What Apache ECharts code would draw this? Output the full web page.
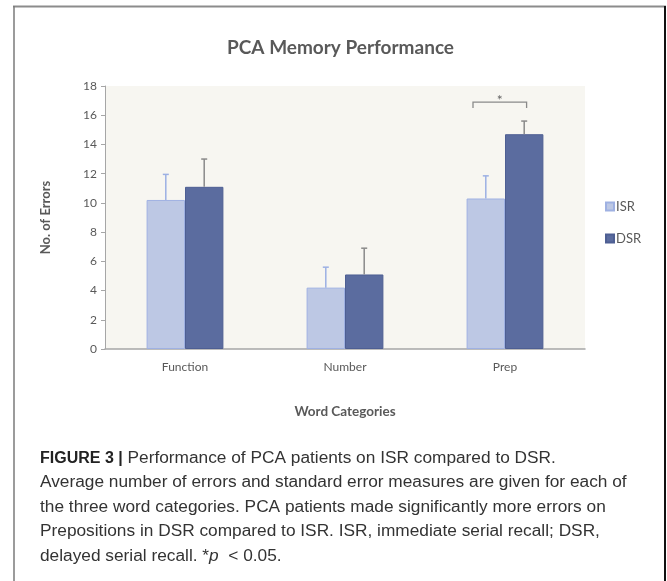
<!DOCTYPE html>
<html><head><meta charset="utf-8">
<script src="https://cdn.jsdelivr.net/npm/echarts@6/dist/echarts.min.js"></script>
<style>html,body{margin:0;padding:0;background:#fff}#c{width:667px;height:581px}</style>
</head><body><div id="c"></div>
<script>
var categories = ['Function', 'Number', 'Prep'];
var isrValues = [10.2, 4.2, 10.3];
var dsrValues = [11.1, 5.1, 14.7];
var isrErr = [1.75, 1.4, 1.55];
var dsrErr = [1.9, 1.8, 0.9];
var yTicks = [0, 2, 4, 6, 8, 10, 12, 14, 16, 18];
var sigBracket = [[2, 16.5, 16.9]];

var font = 'Lato, "Open Sans", sans-serif';
var capFont = '"Liberation Sans", Arial, sans-serif';
var chart = echarts.init(document.getElementById('c'));

function errData(vals, errs, side) {
  return vals.map(function (v, i) { return [i, v, v + errs[i], side]; });
}

function renderErr(params, api) {
  var idx = api.value(0), lo = api.value(1), hi = api.value(2), side = api.value(3);
  var band = api.size([1, 0])[0];
  var off = side * band * 0.12;
  var p0 = api.coord([idx, lo]), p1 = api.coord([idx, hi]);
  var x = p0[0] + off;
  var color = side < 0 ? '#9cb0e3' : '#8a8a8a';
  return {
    type: 'group',
    children: [
      { type: 'line', shape: { x1: x, y1: p0[1], x2: x, y2: p1[1] }, style: { stroke: color, lineWidth: 1.5 } },
      { type: 'line', shape: { x1: x - 3, y1: p1[1], x2: x + 3, y2: p1[1] }, style: { stroke: color, lineWidth: 1.5 } }
    ]
  };
}

function renderBracket(params, api) {
  var idx = api.value(0), lo = api.value(1), hi = api.value(2);
  var band = api.size([1, 0])[0];
  var pLo = api.coord([idx, lo]), pHi = api.coord([idx, hi]);
  var xl = pLo[0] - band * 0.2, xr = pLo[0] + band * 0.135;
  return {
    type: 'group',
    children: [
      { type: 'polyline', shape: { points: [[xl, pLo[1]], [xl, pHi[1]], [xr, pHi[1]], [xr, pLo[1]]] },
        style: { stroke: '#8a8a8a', lineWidth: 1.3, fill: null } },
      { type: 'text', style: { text: '*', x: (xl + xr) / 2, y: pHi[1] - 2, align: 'center', verticalAlign: 'middle',
        fill: '#666', font: '14px ' + font } }
    ]
  };
}

chart.setOption({
  animation: false,
  backgroundColor: '#fff',
  title: {
    text: 'PCA Memory Performance', left: 222, top: 33,
    textStyle: { fontFamily: font, fontWeight: 'bold', fontSize: 19, color: '#595959' }
  },
  legend: {
    orient: 'vertical', left: 600, top: 195, itemWidth: 8, itemHeight: 8, itemGap: 19,
    icon: 'rect',
    data: ['ISR', 'DSR'],
    textStyle: { fontFamily: font, fontSize: 13, color: '#595959', padding: [0, 0, 0, -3] }
  },
  grid: { left: 105, right: 82, top: 86, bottom: 232, show: true, backgroundColor: '#f7f6f1', borderWidth: 0 },
  xAxis: {
    type: 'category', data: categories,
    name: 'Word Categories', nameLocation: 'middle', nameGap: 56,
    nameTextStyle: { fontFamily: font, fontWeight: 'bold', fontSize: 13.5, color: '#595959' },
    axisLine: { lineStyle: { color: '#a6a6a6', width: 1.5 } },
    axisTick: { show: false },
    axisLabel: { fontFamily: font, fontSize: 12, color: '#595959', margin: 12 }
  },
  yAxis: {
    type: 'value', min: yTicks[0], max: yTicks[yTicks.length - 1], interval: 2,
    name: 'No. of Errors', nameLocation: 'middle', nameGap: 53, nameRotate: 90,
    nameTextStyle: { fontFamily: font, fontWeight: 'bold', fontSize: 13, color: '#595959' },
    axisLine: { show: true, lineStyle: { color: '#a6a6a6', width: 1 } },
    axisTick: { show: true, length: 4, lineStyle: { color: '#a6a6a6' } },
    splitLine: { show: false },
    axisLabel: { fontFamily: font, fontSize: 12, color: '#595959', margin: 8 }
  },
  series: [
    { name: 'ISR', type: 'bar', data: isrValues, barWidth: '24%', barGap: '0%',
      itemStyle: { color: '#bdc8e4', borderColor: '#9fb1e2', borderWidth: 1 } },
    { name: 'DSR', type: 'bar', data: dsrValues, barWidth: '24%',
      itemStyle: { color: '#5b6c9f', borderColor: '#4e5f93', borderWidth: 1 } },
    { type: 'custom', renderItem: renderErr, data: errData(isrValues, isrErr, -1), z: 5, silent: true },
    { type: 'custom', renderItem: renderErr, data: errData(dsrValues, dsrErr, 1), z: 5, silent: true },
    { type: 'custom', renderItem: renderBracket, data: sigBracket, z: 5, silent: true }
  ],
  graphic: [
    { type: 'line', shape: { x1: 13, y1: 6.5, x2: 666, y2: 6.5 }, style: { stroke: '#8c8c8c', lineWidth: 2 } },
    { type: 'line', shape: { x1: 14, y1: 6, x2: 14, y2: 581 }, style: { stroke: '#7a7a7a', lineWidth: 1.5 } },
    { type: 'line', shape: { x1: 665, y1: 6, x2: 665, y2: 581 }, style: { stroke: '#111', lineWidth: 2 } },
    { type: 'text', left: 40, top: 446,
      style: {
        text: '{b|FIGURE 3 |} Performance of PCA patients on ISR compared to DSR.\n' +
              'Average number of errors and standard error measures are given for each of\n' +
              'the three word categories. PCA patients made significantly more errors on\n' +
              'Prepositions in DSR compared to ISR. ISR, immediate serial recall; DSR,\n' +
              'delayed serial recall. *{i|p}  < 0.05.',
        font: '17.3px ' + capFont, fill: '#333', lineHeight: 24.4,
        rich: {
          b: { fontWeight: 'bold', fontSize: 16, fontFamily: capFont, fill: '#222', lineHeight: 24.4 },
          i: { fontStyle: 'italic', fontSize: 17.3, fontFamily: capFont, fill: '#333', lineHeight: 24.4 }
        }
      }
    }
  ]
});
</script>
</body></html>
